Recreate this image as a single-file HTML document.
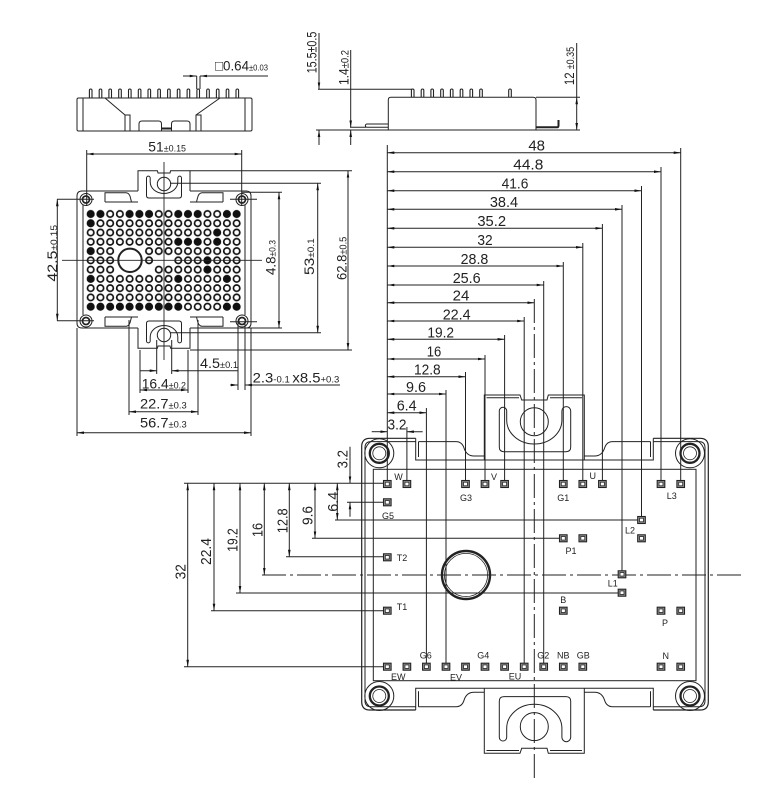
<!DOCTYPE html>
<html><head><meta charset="utf-8"><style>
html,body{margin:0;padding:0;background:#fff;}
svg{display:block;}
text{font-family:"Liberation Sans",sans-serif;fill:#222;stroke:none;}
</style></head><body>
<svg width="774" height="792" viewBox="0 0 774 792" xmlns="http://www.w3.org/2000/svg">
<defs>
<marker id="a" viewBox="0 0 7 2.6" refX="7" refY="1.3" markerWidth="7" markerHeight="2.6" markerUnits="userSpaceOnUse" orient="auto-start-reverse"><path d="M0,0L7,1.3L0,2.6z" fill="#111"/></marker>
<g id="pin"><rect x="-3.8" y="-3.5" width="7.6" height="7" fill="#9a9a9a" stroke="#222" stroke-width="1.1"/><rect x="-2" y="-1.8" width="4" height="3.6" fill="#fff" stroke="#333" stroke-width="0.9"/></g>
<pattern id="g" x="85.835" y="209.37" width="9.73" height="9.27" patternUnits="userSpaceOnUse"><circle cx="4.865" cy="4.635" r="3.2" fill="#fff" stroke="#111" stroke-width="1.7"/></pattern>
<g id="mts">
<path d="M415.7,438.3V460H653.3V438.3M418.5,441.6V457M650.5,441.6V457"/>
<path d="M418.5,441.6H456Q462,441.6 464,448Q466.5,456 474,456H484.3M584.3,456H594.6Q602,456 604.6,448Q606.6,441.6 612.6,441.6H650.5"/>
<path d="M484.3,460V395H520L521.7,400H547L548.3,395H584.3V460M486.5,397.8H519M550,397.8H582"/>
<path d="M499.3,411V447Q499.3,451.7 504,451.7H566Q570.7,451.7 570.7,447V411A4.4,4.4 0 0 0 561.9,411V420A27.6,24 0 0 1 506.7,420V411A3.7,3.7 0 0 0 499.3,411Z"/>
<circle cx="534.3" cy="421.7" r="14"/>
</g>
<g id="lts">
<path d="M138,191V170.7H157.4L158,173H170L170.6,170.7H190V191"/>
<path d="M146.5,178V195.5Q146.5,198 149,198H179Q181.5,198 181.5,195.5V178A1.85,1.85 0 0 0 177.8,178V182A13.8,11.5 0 0 1 150.2,182V178A1.85,1.85 0 0 0 146.5,178Z"/>
<circle cx="164" cy="184" r="6.7"/>
<path d="M105,202V192.7H126Q129.5,193 130.5,198L131.5,202M105,202H138M223,202V192.7H202Q198.5,193 197.5,198L196.5,202M190,202H223"/>
</g>
</defs>

<g fill="none" stroke="#222" stroke-width="1">
<!-- LEFT SIDE VIEW -->
<rect x="77" y="98" width="175" height="33" rx="1.5"/>
<path d="M83,98V131M245,98V131"/>
<path d="M105,98L125,115V131M125,115H130V131M220,98L196,115V131M196,115H201V131"/>
<path d="M139,130.5V124Q139,121 142,121H158.5Q161.5,121 161.5,124V130.5M171.5,130.5V124Q171.5,121 174.5,121H187Q190,121 190,124V130.5"/>
<path d="M161.5,128.5H171.5" stroke-width="2"/>
<g stroke-width="1.1">
<path d="M89.4,98V90.3a1.3,1.3 0 0 1 2.6,0V98M99.2,98V90.3a1.3,1.3 0 0 1 2.6,0V98M108.9,98V90.3a1.3,1.3 0 0 1 2.6,0V98M118.7,98V90.3a1.3,1.3 0 0 1 2.6,0V98M128.5,98V90.3a1.3,1.3 0 0 1 2.6,0V98M138.3,98V90.3a1.3,1.3 0 0 1 2.6,0V98M148,98V90.3a1.3,1.3 0 0 1 2.6,0V98M157.8,98V90.3a1.3,1.3 0 0 1 2.6,0V98M167.6,98V90.3a1.3,1.3 0 0 1 2.6,0V98M177.3,98V90.3a1.3,1.3 0 0 1 2.6,0V98M187.1,98V90.3a1.3,1.3 0 0 1 2.6,0V98M196.9,98V90.3a1.3,1.3 0 0 1 2.6,0V98M206.7,98V90.3a1.3,1.3 0 0 1 2.6,0V98M216.4,98V90.3a1.3,1.3 0 0 1 2.6,0V98M226.2,98V90.3a1.3,1.3 0 0 1 2.6,0V98M236,98V90.3a1.3,1.3 0 0 1 2.6,0V98"/>
</g>
<path d="M196.7,89V76M200,89V76"/>
<line x1="183" y1="76" x2="196.7" y2="76" marker-end="url(#a)"/>
<line x1="268" y1="76" x2="200" y2="76" marker-end="url(#a)"/>

<!-- RIGHT SIDE VIEW -->
<path d="M388.3,130V100Q388.3,97.3 391,97.3H533Q536,97.3 536,100V130"/>
<g stroke-width="1.1">
<path d="M411.4,97.3V90.3a1.3,1.3 0 0 1 2.6,0V97.3M421.2,97.3V90.3a1.3,1.3 0 0 1 2.6,0V97.3M430.9,97.3V90.3a1.3,1.3 0 0 1 2.6,0V97.3M440.7,97.3V90.3a1.3,1.3 0 0 1 2.6,0V97.3M450.4,97.3V90.3a1.3,1.3 0 0 1 2.6,0V97.3M460.2,97.3V90.3a1.3,1.3 0 0 1 2.6,0V97.3M470,97.3V90.3a1.3,1.3 0 0 1 2.6,0V97.3M479.7,97.3V90.3a1.3,1.3 0 0 1 2.6,0V97.3M508.7,97.3V90.3a1.3,1.3 0 0 1 2.6,0V97.3"/>
</g>
<path d="M367,124H388.3M367,127.3H388.3M367,124A1.6,1.6 0 0 0 367,127.3M350,127.3H366"/>
<path d="M536,127.3H557Q558.5,127.3 558.5,125.5V120" stroke-width="2"/>
<path d="M316,130H580M536,97.3H580M318,89.3H412"/>
<line x1="319" y1="33" x2="319" y2="89.3" marker-end="url(#a)"/>
<line x1="319" y1="145" x2="319" y2="130" marker-end="url(#a)"/>
<line x1="350.7" y1="50" x2="350.7" y2="127.3" marker-end="url(#a)"/>
<line x1="350.7" y1="145" x2="350.7" y2="130" marker-end="url(#a)"/>
<line x1="576.7" y1="43" x2="576.7" y2="97.3"/>
<line x1="576.7" y1="130" x2="576.7" y2="97.3" marker-start="url(#a)" marker-end="url(#a)"/>

<!-- LEFT TOP VIEW -->
<path d="M138,191H82Q77,191 77,196V323Q77,328 82,328H138M190,328H246Q251,328 251,323V196Q251,191 246,191H190"/>
<path d="M83,205V315M245,205V315"/>
<use href="#lts"/>
<use href="#lts" transform="translate(0,519) scale(1,-1)"/>
<rect x="85.835" y="209.37" width="155.68" height="101.97" fill="url(#g)" stroke="none"/>
<g fill="#fff" stroke="none">
<circle cx="119.9" cy="251.1" r="4.6"/><circle cx="129.6" cy="251.1" r="4.6"/><circle cx="139.4" cy="251.1" r="4.6"/>
<circle cx="119.9" cy="260.4" r="4.6"/><circle cx="129.6" cy="260.4" r="4.6"/><circle cx="139.4" cy="260.4" r="4.6"/><circle cx="158.8" cy="260.4" r="4.6"/><circle cx="168.5" cy="260.4" r="4.6"/>
<circle cx="119.9" cy="269.6" r="4.6"/><circle cx="129.6" cy="269.6" r="4.6"/><circle cx="139.4" cy="269.6" r="4.6"/><circle cx="149.1" cy="269.6" r="4.6"/>
</g>
<g fill="#111" stroke="none">
<circle cx="90.7" cy="214" r="3.8"/><circle cx="100.4" cy="214" r="3.8"/><circle cx="129.6" cy="214" r="3.8"/><circle cx="139.4" cy="214" r="3.8"/><circle cx="149.1" cy="214" r="3.8"/><circle cx="178.3" cy="214" r="3.8"/><circle cx="188" cy="214" r="3.8"/><circle cx="197.7" cy="214" r="3.8"/><circle cx="226.9" cy="214" r="3.8"/><circle cx="236.7" cy="214" r="3.8"/>
<circle cx="90.7" cy="223.3" r="3.8"/>
<circle cx="217.2" cy="232.5" r="3.8"/>
<circle cx="178.3" cy="241.8" r="3.8"/><circle cx="188" cy="241.8" r="3.8"/><circle cx="197.7" cy="241.8" r="3.8"/><circle cx="217.2" cy="241.8" r="3.8"/>
<circle cx="90.7" cy="251.1" r="3.8"/>
<circle cx="207.5" cy="260.4" r="3.8"/>
<circle cx="207.5" cy="269.6" r="3.8"/>
<circle cx="90.7" cy="278.9" r="3.8"/><circle cx="178.3" cy="278.9" r="3.8"/><circle cx="226.9" cy="278.9" r="3.8"/>
<circle cx="90.7" cy="306.7" r="3.8"/><circle cx="100.4" cy="306.7" r="3.8"/><circle cx="110.2" cy="306.7" r="3.8"/><circle cx="119.9" cy="306.7" r="3.8"/><circle cx="129.6" cy="306.7" r="3.8"/><circle cx="139.4" cy="306.7" r="3.8"/><circle cx="149.1" cy="306.7" r="3.8"/><circle cx="158.8" cy="306.7" r="3.8"/><circle cx="168.5" cy="306.7" r="3.8"/><circle cx="178.3" cy="306.7" r="3.8"/><circle cx="226.9" cy="306.7" r="3.8"/><circle cx="236.7" cy="306.7" r="3.8"/>
</g>
<circle cx="130" cy="260.3" r="11.7" fill="#fff" stroke-width="2"/>
<g>
<circle cx="86" cy="199.5" r="6"/><circle cx="86" cy="199.5" r="3.5" stroke-width="1.7"/>
<circle cx="242" cy="199.5" r="6"/><circle cx="242" cy="199.5" r="3.5" stroke-width="1.7"/>
<circle cx="86" cy="321" r="6"/><circle cx="86" cy="321" r="3.5" stroke-width="1.7"/>
<circle cx="242" cy="321" r="6"/><circle cx="242" cy="321" r="3.5" stroke-width="1.7"/>
</g>
<path d="M62,260.3H262M164,162V360" stroke-width="0.9"/>
<!-- left view dims -->
<path d="M86.7,150V206M241.7,150V206M57,199.3H94M57,320.7H94M230,199.3H257M230,321.7H257"/>
<line x1="86.7" y1="154" x2="241.7" y2="154" marker-start="url(#a)" marker-end="url(#a)"/>
<line x1="57.3" y1="199.3" x2="57.3" y2="320.7" marker-start="url(#a)" marker-end="url(#a)"/>
<path d="M190,170.7H352M190,350H352M170,183.3H321M170,332.7H321M242,192.3H282M242,328H282"/>
<line x1="348" y1="170.7" x2="348" y2="350" marker-start="url(#a)" marker-end="url(#a)"/>
<line x1="317.7" y1="183.3" x2="317.7" y2="332.7" marker-start="url(#a)" marker-end="url(#a)"/>
<line x1="279" y1="192.3" x2="279" y2="328" marker-start="url(#a)" marker-end="url(#a)"/>
<path d="M77,328V436M251,328V436M129,320V415M198,320V415M140,350V393M188,350V393M156.7,340V374M171.7,340V374M238,322V390M245,322V390"/>
<line x1="77" y1="432.7" x2="251" y2="432.7" marker-start="url(#a)" marker-end="url(#a)"/>
<line x1="129" y1="411.7" x2="198" y2="411.7" marker-start="url(#a)" marker-end="url(#a)"/>
<line x1="140" y1="390" x2="188" y2="390" marker-start="url(#a)" marker-end="url(#a)"/>
<line x1="140" y1="370.7" x2="156.7" y2="370.7" marker-end="url(#a)"/>
<line x1="238" y1="370.7" x2="171.7" y2="370.7" marker-end="url(#a)"/>
<line x1="230" y1="385" x2="238" y2="385" marker-end="url(#a)"/>
<line x1="340" y1="385" x2="245" y2="385" marker-end="url(#a)"/>

<!-- MAIN VIEW -->
<path d="M415.7,438.3H370Q361.7,438.3 361.7,446.6V701.7Q361.7,710 370,710H415.7M653.3,710H700Q708.3,710 708.3,701.7V446.6Q708.3,438.3 700,438.3H653.3" stroke-width="1.2"/>
<path d="M415.7,441.6H371Q365,441.6 365,447.6V700.7Q365,706.7 371,706.7H415.7M653.3,706.7H699Q705,706.7 705,700.7V447.6Q705,441.6 699,441.6H653.3"/>
<rect x="373.3" y="469.3" width="322.7" height="211.4"/>
<use href="#mts"/>
<use href="#mts" transform="translate(0,1148.3) scale(1,-1)"/>
<g>
<circle cx="379.3" cy="453.3" r="14.5"/><circle cx="379.3" cy="453.3" r="9.5" stroke-width="2.3"/><circle cx="379.3" cy="453.3" r="6.5" stroke-width="0.8"/>
<circle cx="690" cy="453.3" r="14.5"/><circle cx="690" cy="453.3" r="9.5" stroke-width="2.3"/><circle cx="690" cy="453.3" r="6.5" stroke-width="0.8"/>
<circle cx="379.3" cy="696" r="14.5"/><circle cx="379.3" cy="696" r="9.5" stroke-width="2.3"/><circle cx="379.3" cy="696" r="6.5" stroke-width="0.8"/>
<circle cx="690" cy="696" r="14.5"/><circle cx="690" cy="696" r="9.5" stroke-width="2.3"/><circle cx="690" cy="696" r="6.5" stroke-width="0.8"/>
</g>
<circle cx="466" cy="575" r="24" stroke-width="2.4"/>
<circle cx="466" cy="575" r="21.6" stroke-width="0.8"/>
<!-- centerlines -->
<path d="M534.3,299V782M262,575H745" stroke-dasharray="24 4 3 4"/>
<!-- top dims -->
<path d="M387.3,145V480"/>
<line x1="387.3" y1="152.7" x2="680.7" y2="152.7" marker-start="url(#a)" marker-end="url(#a)"/>
<line x1="387.3" y1="171.7" x2="661" y2="171.7" marker-start="url(#a)" marker-end="url(#a)"/>
<line x1="387.3" y1="190.7" x2="641.5" y2="190.7" marker-start="url(#a)" marker-end="url(#a)"/>
<line x1="387.3" y1="209.3" x2="622" y2="209.3" marker-start="url(#a)" marker-end="url(#a)"/>
<line x1="387.3" y1="228.3" x2="602.4" y2="228.3" marker-start="url(#a)" marker-end="url(#a)"/>
<line x1="387.3" y1="247.3" x2="582.8" y2="247.3" marker-start="url(#a)" marker-end="url(#a)"/>
<line x1="387.3" y1="266" x2="563.3" y2="266" marker-start="url(#a)" marker-end="url(#a)"/>
<line x1="387.3" y1="285" x2="543.7" y2="285" marker-start="url(#a)" marker-end="url(#a)"/>
<line x1="387.3" y1="302.7" x2="534.3" y2="302.7" marker-start="url(#a)" marker-end="url(#a)"/>
<line x1="387.3" y1="321" x2="524.2" y2="321" marker-start="url(#a)" marker-end="url(#a)"/>
<line x1="387.3" y1="339.3" x2="504.6" y2="339.3" marker-start="url(#a)" marker-end="url(#a)"/>
<line x1="387.3" y1="359" x2="485" y2="359" marker-start="url(#a)" marker-end="url(#a)"/>
<line x1="387.3" y1="376.7" x2="465.5" y2="376.7" marker-start="url(#a)" marker-end="url(#a)"/>
<line x1="387.3" y1="394" x2="446" y2="394" marker-start="url(#a)" marker-end="url(#a)"/>
<line x1="387.3" y1="412.7" x2="426.4" y2="412.7" marker-start="url(#a)" marker-end="url(#a)"/>
<line x1="371.7" y1="431.7" x2="387.3" y2="431.7" marker-end="url(#a)"/>
<line x1="422.7" y1="431.7" x2="406.9" y2="431.7" marker-end="url(#a)"/>
<path d="M680.7,148V480.5M661,167V480.5M641.5,186V516.5M622,205V571M602.4,224V480.5M582.8,243V480.5M563.3,262V480.5M543.7,281V663M524.2,317V663M504.6,335V480.5M485,355V480.5M465.5,372V480.5M446,390V663M426.4,408V663M406.9,427V480.5"/>
<!-- left dims -->
<path d="M184,483.3H384M184,666.7H384M211,610.7H384M236,593H618M286,556.7H384M312,538.3H559.5M335,520H637.7M347,502.3H384"/>
<line x1="187.7" y1="483.3" x2="187.7" y2="666.7" marker-start="url(#a)" marker-end="url(#a)"/>
<line x1="214" y1="483.3" x2="214" y2="610.7" marker-start="url(#a)" marker-end="url(#a)"/>
<line x1="240" y1="483.3" x2="240" y2="593" marker-start="url(#a)" marker-end="url(#a)"/>
<line x1="264.3" y1="483.3" x2="264.3" y2="575" marker-start="url(#a)" marker-end="url(#a)"/>
<line x1="289.3" y1="483.3" x2="289.3" y2="556.7" marker-start="url(#a)" marker-end="url(#a)"/>
<line x1="315" y1="483.3" x2="315" y2="538.3" marker-start="url(#a)" marker-end="url(#a)"/>
<line x1="337.3" y1="483.3" x2="337.3" y2="520" marker-start="url(#a)" marker-end="url(#a)"/>
<line x1="350" y1="446.7" x2="350" y2="483.3" marker-end="url(#a)"/>
<line x1="350" y1="516.7" x2="350" y2="502.3" marker-end="url(#a)"/>
</g>

<!-- pins -->
<g>
<use href="#pin" x="387.3" y="484"/><use href="#pin" x="406.9" y="484"/><use href="#pin" x="465.5" y="484"/><use href="#pin" x="485" y="484"/><use href="#pin" x="504.6" y="484"/><use href="#pin" x="563.3" y="484"/><use href="#pin" x="582.8" y="484"/><use href="#pin" x="602.4" y="484"/><use href="#pin" x="661" y="484"/><use href="#pin" x="680.7" y="484"/>
<use href="#pin" x="387.3" y="502.3"/>
<use href="#pin" x="641.5" y="520"/><use href="#pin" x="641.5" y="538.3"/>
<use href="#pin" x="563.3" y="538.3"/><use href="#pin" x="582.8" y="538.3"/>
<use href="#pin" x="387.3" y="557.3"/>
<use href="#pin" x="622" y="574.3"/><use href="#pin" x="622" y="592.7"/>
<use href="#pin" x="563.3" y="610.7"/><use href="#pin" x="387.3" y="610.7"/>
<use href="#pin" x="661" y="610.7"/><use href="#pin" x="680.7" y="610.7"/>
<use href="#pin" x="387.3" y="666.7"/><use href="#pin" x="406.9" y="666.7"/><use href="#pin" x="426.4" y="666.7"/><use href="#pin" x="446" y="666.7"/><use href="#pin" x="465.5" y="666.7"/><use href="#pin" x="485" y="666.7"/><use href="#pin" x="504.6" y="666.7"/><use href="#pin" x="524.2" y="666.7"/><use href="#pin" x="543.7" y="666.7"/><use href="#pin" x="563.3" y="666.7"/><use href="#pin" x="582.8" y="666.7"/><use href="#pin" x="661" y="666.7"/><use href="#pin" x="680.7" y="666.7"/>
</g>

<!-- texts: main top dims -->
<g font-size="14.5" text-anchor="middle">
<text x="536.7" y="150.5" textLength="16.7" lengthAdjust="spacingAndGlyphs">48</text>
<text x="528.3" y="169.3" textLength="30" lengthAdjust="spacingAndGlyphs">44.8</text>
<text x="515" y="188.3" textLength="26.7" lengthAdjust="spacingAndGlyphs">41.6</text>
<text x="504" y="207" textLength="28.3" lengthAdjust="spacingAndGlyphs">38.4</text>
<text x="491.7" y="226" textLength="28.7" lengthAdjust="spacingAndGlyphs">35.2</text>
<text x="485" y="245" textLength="15.3" lengthAdjust="spacingAndGlyphs">32</text>
<text x="474.5" y="264" textLength="27.7" lengthAdjust="spacingAndGlyphs">28.8</text>
<text x="466.7" y="283" textLength="28" lengthAdjust="spacingAndGlyphs">25.6</text>
<text x="461" y="300.7" textLength="16.7" lengthAdjust="spacingAndGlyphs">24</text>
<text x="456.7" y="319.3" textLength="28" lengthAdjust="spacingAndGlyphs">22.4</text>
<text x="440.7" y="337.3" textLength="26.7" lengthAdjust="spacingAndGlyphs">19.2</text>
<text x="434" y="356.7" textLength="14.5" lengthAdjust="spacingAndGlyphs">16</text>
<text x="427.3" y="374.7" textLength="26.7" lengthAdjust="spacingAndGlyphs">12.8</text>
<text x="416" y="392" textLength="20" lengthAdjust="spacingAndGlyphs">9.6</text>
<text x="406.7" y="410.7" textLength="20" lengthAdjust="spacingAndGlyphs">6.4</text>
<text x="397" y="429.3" textLength="19" lengthAdjust="spacingAndGlyphs">3.2</text>
</g>
<!-- rotated left dims -->
<g font-size="14.5" text-anchor="middle">
<text transform="translate(180.3,571.7) rotate(-90)" y="5" textLength="15.3" lengthAdjust="spacingAndGlyphs">32</text>
<text transform="translate(206,551.5) rotate(-90)" y="5" textLength="27" lengthAdjust="spacingAndGlyphs">22.4</text>
<text transform="translate(232.3,540) rotate(-90)" y="5" textLength="23.4" lengthAdjust="spacingAndGlyphs">19.2</text>
<text transform="translate(257.7,530) rotate(-90)" y="5" textLength="14" lengthAdjust="spacingAndGlyphs">16</text>
<text transform="translate(282.3,520.8) rotate(-90)" y="5" textLength="25" lengthAdjust="spacingAndGlyphs">12.8</text>
<text transform="translate(307.3,515.5) rotate(-90)" y="5" textLength="19" lengthAdjust="spacingAndGlyphs">9.6</text>
<text transform="translate(332.8,501.7) rotate(-90)" y="5" textLength="20" lengthAdjust="spacingAndGlyphs">6.4</text>
<text transform="translate(342.3,459.2) rotate(-90)" y="5" textLength="18.3" lengthAdjust="spacingAndGlyphs">3.2</text>
</g>
<!-- side view & left view tolerance texts -->
<g font-size="14">
<text x="215" y="70.7" textLength="53" lengthAdjust="spacingAndGlyphs">□0.64<tspan font-size="8">±0.03</tspan></text>
<text transform="translate(311.7,52.5) rotate(-90)" y="5" text-anchor="middle" textLength="41.6" lengthAdjust="spacingAndGlyphs">15.5±0.5</text>
<text transform="translate(343.3,67.5) rotate(-90)" y="5" text-anchor="middle" textLength="35" lengthAdjust="spacingAndGlyphs">1.4<tspan font-size="11">±0.2</tspan></text>
<text transform="translate(569,66) rotate(-90)" y="5" text-anchor="middle" textLength="38.3" lengthAdjust="spacingAndGlyphs">12 <tspan font-size="11">±0.35</tspan></text>
<text x="148.3" y="151.5" textLength="37.7" lengthAdjust="spacingAndGlyphs">51<tspan font-size="9">±0.15</tspan></text>
<text transform="translate(341.3,258.3) rotate(-90)" y="5" text-anchor="middle" textLength="43.3" lengthAdjust="spacingAndGlyphs">62.8<tspan font-size="10">±0.5</tspan></text>
<text transform="translate(309,256.7) rotate(-90)" y="5" text-anchor="middle" textLength="36.7" lengthAdjust="spacingAndGlyphs">53<tspan font-size="9">±0.1</tspan></text>
<text transform="translate(270.5,257.5) rotate(-90)" y="5" text-anchor="middle" textLength="35" lengthAdjust="spacingAndGlyphs">4.8<tspan font-size="9">±0.3</tspan></text>
<text transform="translate(52,253.3) rotate(-90)" y="5" text-anchor="middle" textLength="56.7" lengthAdjust="spacingAndGlyphs">42.5<tspan font-size="9">±0.15</tspan></text>
<text x="200" y="368" textLength="38" lengthAdjust="spacingAndGlyphs">4.5<tspan font-size="9">±0.1</tspan></text>
<text x="141.7" y="388.3" textLength="44.3" lengthAdjust="spacingAndGlyphs">16.4<tspan font-size="9">±0.2</tspan></text>
<text x="140" y="408.3" textLength="46.7" lengthAdjust="spacingAndGlyphs">22.7<tspan font-size="9">±0.3</tspan></text>
<text x="140" y="427.3" textLength="46.7" lengthAdjust="spacingAndGlyphs">56.7<tspan font-size="9">±0.3</tspan></text>
<text x="252.7" y="382.7" textLength="86.6" lengthAdjust="spacingAndGlyphs">2.3<tspan font-size="9">-0.1 </tspan>x8.5<tspan font-size="9">+0.3</tspan></text>
</g>
<!-- pin labels -->
<g font-size="9" text-anchor="middle">
<text x="398.5" y="480">W</text>
<text x="494" y="480">V</text>
<text x="592.7" y="479">U</text>
<text x="466" y="501">G3</text>
<text x="563.3" y="501">G1</text>
<text x="671.7" y="499">L3</text>
<text x="388" y="519">G5</text>
<text x="630" y="533.5">L2</text>
<text x="571" y="554">P1</text>
<text x="402" y="561">T2</text>
<text x="612.7" y="586.5">L1</text>
<text x="563.3" y="603">B</text>
<text x="402" y="610">T1</text>
<text x="665" y="626">P</text>
<text x="425.7" y="658.5">G6</text>
<text x="483.3" y="658.5">G4</text>
<text x="543.3" y="658.5">G2</text>
<text x="563.3" y="658.5">NB</text>
<text x="583.3" y="658.5">GB</text>
<text x="665.7" y="659">N</text>
<text x="398.3" y="680">EW</text>
<text x="456" y="680.5">EV</text>
<text x="515" y="679.5">EU</text>
</g>
</svg>
</body></html>
